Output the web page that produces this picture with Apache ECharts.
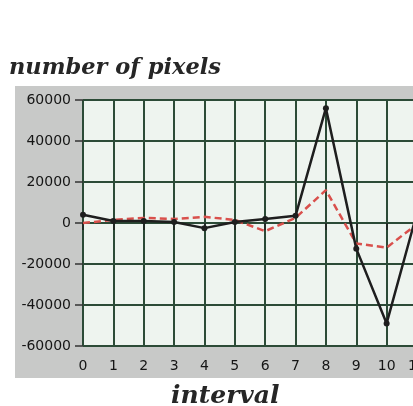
<!DOCTYPE html>
<html>
<head>
<meta charset="utf-8">
<script src="https://cdn.jsdelivr.net/npm/echarts@6/dist/echarts.min.js"></script>
<style>
  html, body { margin: 0; padding: 0; background: #ffffff; overflow: hidden; }
  #chart { width: 418px; height: 406px; }
</style>
</head>
<body>
<div id="chart"></div>
<script>
// Interval index along the x axis
const intervals = [0, 1, 2, 3, 4, 5, 6, 7, 8, 9, 10, 11];
// Pixel counts per interval: solid black series and dashed red series
const blackCounts = [4000, 1000, 1000, 500, -2500, 500, 2000, 3500, 56000, -12500, -49000, 5000];
const redCounts = [0, 1500, 2500, 2000, 3000, 1500, -4000, 2500, 16000, -10000, -12000, -500];
// Value axis range and step
const yMin = -60000, yMax = 60000, yStep = 20000;

const toPairs = vals => intervals.map((x, i) => [x, vals[i]]);

const chart = echarts.init(document.getElementById('chart'), null, { renderer: 'canvas' });

const serifBold = { fontFamily: 'DejaVu Serif', fontStyle: 'italic', fontWeight: 'bold', fill: '#262626' };
const tickFont = 'DejaVu Sans';

chart.setOption({
  animation: false,
  backgroundColor: '#ffffff',
  graphic: [
    {
      type: 'rect', z: -10, silent: true,
      shape: { x: 15, y: 86, width: 405, height: 292 },
      style: { fill: '#c8c9c8' }
    },
    {
      type: 'text', left: 9, top: 57,
      style: Object.assign({ text: 'number of pixels', fontSize: 22.5 }, serifBold)
    },
    {
      type: 'text', left: 171, top: 384,
      style: Object.assign({ text: 'interval', fontSize: 25 }, serifBold)
    }
  ],
  grid: {
    left: 83, right: 1, top: 100, bottom: 60,
    outerBoundsMode: 'none', containLabel: false,
    show: true, backgroundColor: '#eef4ef', borderWidth: 0
  },
  xAxis: {
    type: 'value', min: 0, max: 11, interval: 1,
    axisLine: { show: false },
    axisTick: { show: true, length: 7, lineStyle: { color: '#222', width: 1.5 } },
    axisLabel: { color: '#151515', fontFamily: tickFont, fontSize: 14, margin: 13 },
    splitLine: { show: true, lineStyle: { color: '#2c4b37', width: 2 } }
  },
  yAxis: {
    type: 'value', min: yMin, max: yMax, interval: yStep,
    axisLine: { show: false },
    axisTick: { show: true, length: 8, lineStyle: { color: '#333', width: 1.5 } },
    axisLabel: {
      color: '#151515', fontFamily: tickFont, fontSize: 14, margin: 12,
      formatter: v => String(v)
    },
    splitLine: { show: true, lineStyle: { color: '#2c4b37', width: 2 } }
  },
  series: [
    {
      type: 'line', data: toPairs(redCounts),
      showSymbol: false, symbol: 'none',
      lineStyle: { color: '#d9504c', width: 2.5, type: [7, 4] },
      z: 3
    },
    {
      type: 'line', data: toPairs(blackCounts),
      symbol: 'circle', symbolSize: 6,
      itemStyle: { color: '#1e1e1e' },
      lineStyle: { color: '#1e1e1e', width: 2.5 },
      z: 4
    }
  ]
});
</script>
</body>
</html>
